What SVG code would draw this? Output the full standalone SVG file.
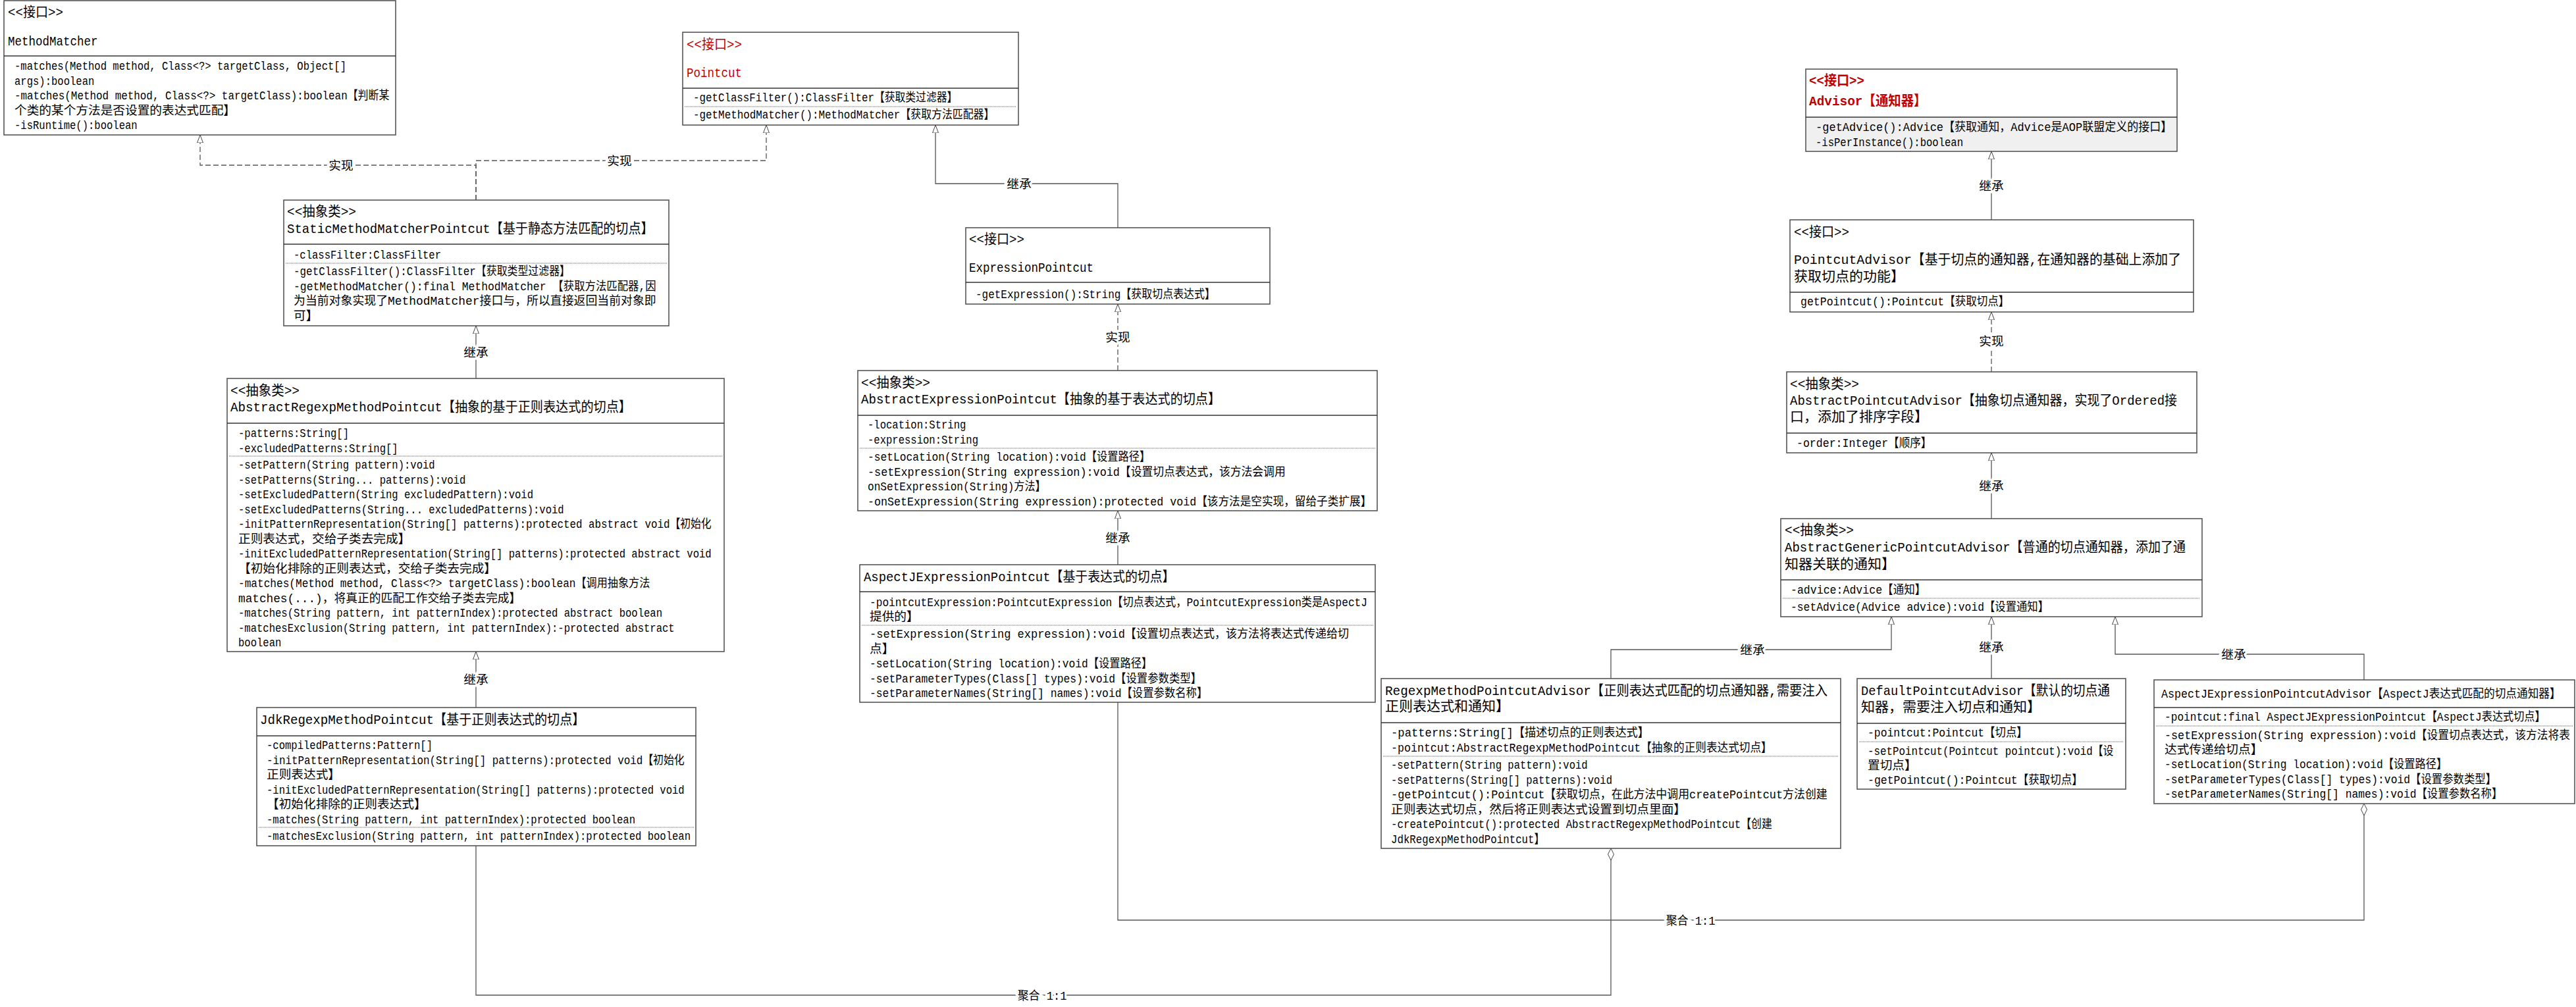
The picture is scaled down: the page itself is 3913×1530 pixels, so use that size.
<svg xmlns="http://www.w3.org/2000/svg" width="3913" height="1530" viewBox="0 0 3913 1530">
<style>
.box{fill:#fff;stroke:#555;stroke-width:1.6}
.dv{stroke:#333;stroke-width:1.3}
.dot{stroke:#555;stroke-width:1;stroke-dasharray:1 1}
text{font-family:"Liberation Mono","Noto Sans CJK SC",monospace;font-size:18.67px;fill:#000}
.h{font-size:21px}
.red{fill:#c00000}
.b{font-weight:bold}
.lbl{text-anchor:middle;stroke:#fff;stroke-width:7;paint-order:stroke}
.c{fill:none;stroke:#555;stroke-width:1.3}
.ds{stroke-dasharray:8 4}
.gen{marker-end:url(#tri)}
.agg{marker-end:url(#dia)}
</style>
<defs>
<marker id="tri" markerUnits="userSpaceOnUse" viewBox="0 0 12 10" markerWidth="12" markerHeight="10" refX="12" refY="5" orient="auto">
<path d="M0,0.5 L12,5 L0,9.5 Z" fill="#fff" stroke="#444" stroke-width="1"/>
</marker>
<marker id="dia" markerUnits="userSpaceOnUse" viewBox="0 0 18 10" markerWidth="18" markerHeight="10" refX="18" refY="5" orient="auto">
<path d="M0,5 L9,0.5 L18,5 L9,9.5 Z" fill="#fff" stroke="#444" stroke-width="1"/>
</marker>
</defs>
<rect width="3913" height="1530" fill="#fff"/>

<g id="connectors">
<path class="c ds gen" d="M723,304 V251 H304 V205"/>
<path class="c ds gen" d="M723,304 V244 H1164 V190"/>
<path class="c gen" d="M723,576 V495"/>
<path class="c gen" d="M723,1075 V990"/>
<path class="c gen" d="M1698,346 V279 H1421 V190"/>
<path class="c ds gen" d="M1698,563 V462"/>
<path class="c gen" d="M1698,858 V776"/>
<path class="c gen" d="M3025,334 V230"/>
<path class="c ds gen" d="M3025,565 V474"/>
<path class="c gen" d="M3025,788 V688"/>
<path class="c gen" d="M2447,1031 V987 H2873 V937"/>
<path class="c gen" d="M3025,1031 V937"/>
<path class="c gen" d="M3591,1033 V994 H3213 V937"/>
<path class="c agg" d="M723,1285 V1512 H2447 V1289"/>
<path class="c agg" d="M1698,1067 V1398 H3591 V1221"/>
<text class="lbl" x="518" y="257.5" textLength="37.3" lengthAdjust="spacingAndGlyphs">实现</text>
<text class="lbl" x="941" y="250.5" textLength="37.3" lengthAdjust="spacingAndGlyphs">实现</text>
<text class="lbl" x="723" y="541.5" textLength="37.3" lengthAdjust="spacingAndGlyphs">继承</text>
<text class="lbl" x="1548" y="285.5" textLength="37.3" lengthAdjust="spacingAndGlyphs">继承</text>
<text class="lbl" x="1698" y="518.5" textLength="37.3" lengthAdjust="spacingAndGlyphs">实现</text>
<text class="lbl" x="1698" y="823.5" textLength="37.3" lengthAdjust="spacingAndGlyphs">继承</text>
<text class="lbl" x="723" y="1038.5" textLength="37.3" lengthAdjust="spacingAndGlyphs">继承</text>
<text class="lbl" x="3025" y="288.5" textLength="37.3" lengthAdjust="spacingAndGlyphs">继承</text>
<text class="lbl" x="3025" y="524.5" textLength="37.3" lengthAdjust="spacingAndGlyphs">实现</text>
<text class="lbl" x="3025" y="744.5" textLength="37.3" lengthAdjust="spacingAndGlyphs">继承</text>
<text class="lbl" x="2662" y="993.5" textLength="37.3" lengthAdjust="spacingAndGlyphs">继承</text>
<text class="lbl" x="3025" y="989.5" textLength="37.3" lengthAdjust="spacingAndGlyphs">继承</text>
<text class="lbl" x="3393" y="1000.5" textLength="37.3" lengthAdjust="spacingAndGlyphs">继承</text>
<text class="lbl" x="1583" y="1518.5" textLength="74.7" lengthAdjust="spacingAndGlyphs">聚合 1:1</text>
<text class="lbl" x="2568" y="1404.5" textLength="74.7" lengthAdjust="spacingAndGlyphs">聚合 1:1</text>
</g>

<g id="MethodMatcher">
<rect class="box" x="6" y="1" width="595" height="204"/>
<line class="dv" x1="6" y1="85" x2="601" y2="85"/>
<text class="h" x="12" y="25" textLength="84" lengthAdjust="spacingAndGlyphs">&lt;&lt;接口&gt;&gt;</text>
<text class="h" x="12" y="69" textLength="136.5" lengthAdjust="spacingAndGlyphs">MethodMatcher</text>
<text x="22" y="106" textLength="504" lengthAdjust="spacingAndGlyphs">-matches(Method method, Class&lt;?&gt; targetClass, Object[]</text>
<text x="22" y="128.5" textLength="121.3" lengthAdjust="spacingAndGlyphs">args):boolean</text>
<text x="22" y="151" textLength="569.3" lengthAdjust="spacingAndGlyphs">-matches(Method method, Class&lt;?&gt; targetClass):boolean【判断某</text>
<text x="22" y="173.5" textLength="336" lengthAdjust="spacingAndGlyphs">个类的某个方法是否设置的表达式匹配】</text>
<text x="22" y="196" textLength="186.7" lengthAdjust="spacingAndGlyphs">-isRuntime():boolean</text>
</g>

<g id="Pointcut">
<rect class="box" x="1037" y="49" width="510" height="141"/>
<line class="dv" x1="1037" y1="134" x2="1547" y2="134"/>
<line class="dot" x1="1040" y1="162" x2="1544" y2="162"/>
<text class="h red" x="1043" y="74" textLength="84" lengthAdjust="spacingAndGlyphs">&lt;&lt;接口&gt;&gt;</text>
<text class="h red" x="1043" y="117" textLength="84" lengthAdjust="spacingAndGlyphs">Pointcut</text>
<text x="1053" y="154" textLength="401.3" lengthAdjust="spacingAndGlyphs">-getClassFilter():ClassFilter【获取类过滤器】</text>
<text x="1053" y="180" textLength="457.3" lengthAdjust="spacingAndGlyphs">-getMethodMatcher():MethodMatcher【获取方法匹配器】</text>
</g>

<g id="StaticMethodMatcherPointcut">
<rect class="box" x="431" y="304" width="585" height="191"/>
<line class="dv" x1="431" y1="371" x2="1016" y2="371"/>
<line class="dot" x1="434" y1="400" x2="1013" y2="400"/>
<text class="h" x="436" y="328" textLength="105" lengthAdjust="spacingAndGlyphs">&lt;&lt;抽象类&gt;&gt;</text>
<text class="h" x="436" y="354" textLength="556.5" lengthAdjust="spacingAndGlyphs">StaticMethodMatcherPointcut【基于静态方法匹配的切点】</text>
<text x="446" y="393" textLength="224" lengthAdjust="spacingAndGlyphs">-classFilter:ClassFilter</text>
<text x="446" y="418" textLength="420" lengthAdjust="spacingAndGlyphs">-getClassFilter():ClassFilter【获取类型过滤器】</text>
<text x="446" y="440.5" textLength="550.7" lengthAdjust="spacingAndGlyphs">-getMethodMatcher():final MethodMatcher 【获取方法匹配器,因</text>
<text x="446" y="463" textLength="550.7" lengthAdjust="spacingAndGlyphs">为当前对象实现了MethodMatcher接口与，所以直接返回当前对象即</text>
<text x="446" y="485.5" textLength="37.3" lengthAdjust="spacingAndGlyphs">可】</text>
</g>

<g id="AbstractRegexpMethodPointcut">
<rect class="box" x="345" y="575" width="755" height="415"/>
<line class="dv" x1="345" y1="643" x2="1100" y2="643"/>
<line class="dot" x1="348" y1="693" x2="1097" y2="693"/>
<text class="h" x="350" y="600" textLength="105" lengthAdjust="spacingAndGlyphs">&lt;&lt;抽象类&gt;&gt;</text>
<text class="h" x="350" y="625" textLength="609" lengthAdjust="spacingAndGlyphs">AbstractRegexpMethodPointcut【抽象的基于正则表达式的切点】</text>
<text x="362" y="664" textLength="168" lengthAdjust="spacingAndGlyphs">-patterns:String[]</text>
<text x="362" y="686.5" textLength="242.7" lengthAdjust="spacingAndGlyphs">-excludedPatterns:String[]</text>
<text x="362" y="712" textLength="298.7" lengthAdjust="spacingAndGlyphs">-setPattern(String pattern):void</text>
<text x="362" y="734.5" textLength="345.3" lengthAdjust="spacingAndGlyphs">-setPatterns(String... patterns):void</text>
<text x="362" y="757" textLength="448" lengthAdjust="spacingAndGlyphs">-setExcludedPattern(String excludedPattern):void</text>
<text x="362" y="779.5" textLength="494.7" lengthAdjust="spacingAndGlyphs">-setExcludedPatterns(String... excludedPatterns):void</text>
<text x="362" y="802" textLength="718.7" lengthAdjust="spacingAndGlyphs">-initPatternRepresentation(String[] patterns):protected abstract void【初始化</text>
<text x="362" y="824.5" textLength="261.3" lengthAdjust="spacingAndGlyphs">正则表达式，交给子类去完成】</text>
<text x="362" y="847" textLength="718.7" lengthAdjust="spacingAndGlyphs">-initExcludedPatternRepresentation(String[] patterns):protected abstract void</text>
<text x="362" y="869.5" textLength="392" lengthAdjust="spacingAndGlyphs">【初始化排除的正则表达式，交给子类去完成】</text>
<text x="362" y="892" textLength="625.3" lengthAdjust="spacingAndGlyphs">-matches(Method method, Class&lt;?&gt; targetClass):boolean【调用抽象方法</text>
<text x="362" y="914.5" textLength="429.3" lengthAdjust="spacingAndGlyphs">matches(...)，将真正的匹配工作交给子类去完成】</text>
<text x="362" y="937" textLength="644" lengthAdjust="spacingAndGlyphs">-matches(String pattern, int patternIndex):protected abstract boolean</text>
<text x="362" y="959.5" textLength="662.7" lengthAdjust="spacingAndGlyphs">-matchesExclusion(String pattern, int patternIndex):-protected abstract</text>
<text x="362" y="982" textLength="65.3" lengthAdjust="spacingAndGlyphs">boolean</text>
</g>

<g id="JdkRegexpMethodPointcut">
<rect class="box" x="390" y="1075" width="667" height="210"/>
<line class="dv" x1="390" y1="1118" x2="1057" y2="1118"/>
<line class="dot" x1="393" y1="1257" x2="1054" y2="1257"/>
<text class="h" x="395" y="1100" textLength="493.5" lengthAdjust="spacingAndGlyphs">JdkRegexpMethodPointcut【基于正则表达式的切点】</text>
<text x="405" y="1138" textLength="252" lengthAdjust="spacingAndGlyphs">-compiledPatterns:Pattern[]</text>
<text x="405" y="1160.5" textLength="634.7" lengthAdjust="spacingAndGlyphs">-initPatternRepresentation(String[] patterns):protected void【初始化</text>
<text x="405" y="1183" textLength="112" lengthAdjust="spacingAndGlyphs">正则表达式】</text>
<text x="405" y="1205.5" textLength="634.7" lengthAdjust="spacingAndGlyphs">-initExcludedPatternRepresentation(String[] patterns):protected void</text>
<text x="405" y="1228" textLength="242.7" lengthAdjust="spacingAndGlyphs">【初始化排除的正则表达式】</text>
<text x="405" y="1250.5" textLength="560" lengthAdjust="spacingAndGlyphs">-matches(String pattern, int patternIndex):protected boolean</text>
<text x="405" y="1276" textLength="644" lengthAdjust="spacingAndGlyphs">-matchesExclusion(String pattern, int patternIndex):protected boolean</text>
</g>

<g id="ExpressionPointcut">
<rect class="box" x="1467" y="346" width="462" height="116"/>
<line class="dv" x1="1467" y1="429" x2="1929" y2="429"/>
<text class="h" x="1472" y="370" textLength="84" lengthAdjust="spacingAndGlyphs">&lt;&lt;接口&gt;&gt;</text>
<text class="h" x="1472" y="413" textLength="189" lengthAdjust="spacingAndGlyphs">ExpressionPointcut</text>
<text x="1482" y="453" textLength="364" lengthAdjust="spacingAndGlyphs">-getExpression():String【获取切点表达式】</text>
</g>

<g id="AbstractExpressionPointcut">
<rect class="box" x="1303" y="563" width="789" height="213"/>
<line class="dv" x1="1303" y1="631" x2="2092" y2="631"/>
<line class="dot" x1="1306" y1="681" x2="2089" y2="681"/>
<text class="h" x="1308" y="588" textLength="105" lengthAdjust="spacingAndGlyphs">&lt;&lt;抽象类&gt;&gt;</text>
<text class="h" x="1308" y="613" textLength="546" lengthAdjust="spacingAndGlyphs">AbstractExpressionPointcut【抽象的基于表达式的切点】</text>
<text x="1318" y="651" textLength="149.3" lengthAdjust="spacingAndGlyphs">-location:String</text>
<text x="1318" y="674" textLength="168" lengthAdjust="spacingAndGlyphs">-expression:String</text>
<text x="1318" y="700" textLength="429.3" lengthAdjust="spacingAndGlyphs">-setLocation(String location):void【设置路径】</text>
<text x="1318" y="722.5" textLength="634.7" lengthAdjust="spacingAndGlyphs">-setExpression(String expression):void【设置切点表达式，该方法会调用</text>
<text x="1318" y="745" textLength="270.7" lengthAdjust="spacingAndGlyphs">onSetExpression(String)方法】</text>
<text x="1318" y="767.5" textLength="765.3" lengthAdjust="spacingAndGlyphs">-onSetExpression(String expression):protected void【该方法是空实现，留给子类扩展】</text>
</g>

<g id="AspectJExpressionPointcut">
<rect class="box" x="1306" y="858" width="783" height="209"/>
<line class="dv" x1="1306" y1="899" x2="2089" y2="899"/>
<line class="dot" x1="1309" y1="950" x2="2086" y2="950"/>
<text class="h" x="1312" y="883" textLength="472.5" lengthAdjust="spacingAndGlyphs">AspectJExpressionPointcut【基于表达式的切点】</text>
<text x="1321" y="921" textLength="756" lengthAdjust="spacingAndGlyphs">-pointcutExpression:PointcutExpression【切点表达式，PointcutExpression类是AspectJ</text>
<text x="1321" y="943" textLength="74.7" lengthAdjust="spacingAndGlyphs">提供的】</text>
<text x="1321" y="969" textLength="728" lengthAdjust="spacingAndGlyphs">-setExpression(String expression):void【设置切点表达式，该方法将表达式传递给切</text>
<text x="1321" y="991.5" textLength="37.3" lengthAdjust="spacingAndGlyphs">点】</text>
<text x="1321" y="1014" textLength="429.3" lengthAdjust="spacingAndGlyphs">-setLocation(String location):void【设置路径】</text>
<text x="1321" y="1036.5" textLength="504" lengthAdjust="spacingAndGlyphs">-setParameterTypes(Class[] types):void【设置参数类型】</text>
<text x="1321" y="1059" textLength="513.3" lengthAdjust="spacingAndGlyphs">-setParameterNames(String[] names):void【设置参数名称】</text>
</g>

<g id="Advisor">
<rect class="box" x="2743" y="105" width="564" height="125"/>
<rect x="2744" y="178" width="562" height="51" fill="#f0f0f0"/>
<line class="dv" x1="2743" y1="178" x2="3307" y2="178"/>
<text class="h red b" x="2748" y="129" textLength="84" lengthAdjust="spacingAndGlyphs">&lt;&lt;接口&gt;&gt;</text>
<text class="h red b" x="2748" y="160" textLength="178.5" lengthAdjust="spacingAndGlyphs">Advisor【通知器】</text>
<text x="2758" y="199" textLength="541.3" lengthAdjust="spacingAndGlyphs">-getAdvice():Advice【获取通知，Advice是AOP联盟定义的接口】</text>
<text x="2758" y="222" textLength="224" lengthAdjust="spacingAndGlyphs">-isPerInstance():boolean</text>
</g>

<g id="PointcutAdvisor">
<rect class="box" x="2719" y="334" width="613" height="140"/>
<line class="dv" x1="2719" y1="444" x2="3332" y2="444"/>
<text class="h" x="2725" y="359" textLength="84" lengthAdjust="spacingAndGlyphs">&lt;&lt;接口&gt;&gt;</text>
<text class="h" x="2725" y="401" textLength="588" lengthAdjust="spacingAndGlyphs">PointcutAdvisor【基于切点的通知器,在通知器的基础上添加了</text>
<text class="h" x="2725" y="427" textLength="168" lengthAdjust="spacingAndGlyphs">获取切点的功能】</text>
<text x="2735" y="464" textLength="317.3" lengthAdjust="spacingAndGlyphs">getPointcut():Pointcut【获取切点】</text>
</g>

<g id="AbstractPointcutAdvisor">
<rect class="box" x="2714" y="565" width="623" height="123"/>
<line class="dv" x1="2714" y1="658" x2="3337" y2="658"/>
<text class="h" x="2719" y="590" textLength="105" lengthAdjust="spacingAndGlyphs">&lt;&lt;抽象类&gt;&gt;</text>
<text class="h" x="2719" y="615" textLength="588" lengthAdjust="spacingAndGlyphs">AbstractPointcutAdvisor【抽象切点通知器，实现了Ordered接</text>
<text class="h" x="2719" y="640" textLength="210" lengthAdjust="spacingAndGlyphs">口，添加了排序字段】</text>
<text x="2729" y="679" textLength="205.3" lengthAdjust="spacingAndGlyphs">-order:Integer【顺序】</text>
</g>

<g id="AbstractGenericPointcutAdvisor">
<rect class="box" x="2705" y="788" width="640" height="149"/>
<line class="dv" x1="2705" y1="881" x2="3345" y2="881"/>
<line class="dot" x1="2708" y1="909" x2="3342" y2="909"/>
<text class="h" x="2711" y="812" textLength="105" lengthAdjust="spacingAndGlyphs">&lt;&lt;抽象类&gt;&gt;</text>
<text class="h" x="2711" y="838" textLength="609" lengthAdjust="spacingAndGlyphs">AbstractGenericPointcutAdvisor【普通的切点通知器，添加了通</text>
<text class="h" x="2711" y="864" textLength="168" lengthAdjust="spacingAndGlyphs">知器关联的通知】</text>
<text x="2720" y="902" textLength="205.3" lengthAdjust="spacingAndGlyphs">-advice:Advice【通知】</text>
<text x="2720" y="928" textLength="392" lengthAdjust="spacingAndGlyphs">-setAdvice(Advice advice):void【设置通知】</text>
</g>

<g id="RegexpMethodPointcutAdvisor">
<rect class="box" x="2098" y="1031" width="698" height="258"/>
<line class="dv" x1="2098" y1="1098" x2="2796" y2="1098"/>
<line class="dot" x1="2101" y1="1149" x2="2793" y2="1149"/>
<text class="h" x="2104" y="1056" textLength="672" lengthAdjust="spacingAndGlyphs">RegexpMethodPointcutAdvisor【正则表达式匹配的切点通知器,需要注入</text>
<text class="h" x="2104" y="1080" textLength="189" lengthAdjust="spacingAndGlyphs">正则表达式和通知】</text>
<text x="2113" y="1119" textLength="392" lengthAdjust="spacingAndGlyphs">-patterns:String[]【描述切点的正则表达式】</text>
<text x="2113" y="1141.5" textLength="578.7" lengthAdjust="spacingAndGlyphs">-pointcut:AbstractRegexpMethodPointcut【抽象的正则表达式切点】</text>
<text x="2113" y="1168" textLength="298.7" lengthAdjust="spacingAndGlyphs">-setPattern(String pattern):void</text>
<text x="2113" y="1190.5" textLength="336" lengthAdjust="spacingAndGlyphs">-setPatterns(String[] patterns):void</text>
<text x="2113" y="1213" textLength="662.7" lengthAdjust="spacingAndGlyphs">-getPointcut():Pointcut【获取切点，在此方法中调用createPointcut方法创建</text>
<text x="2113" y="1235.5" textLength="448" lengthAdjust="spacingAndGlyphs">正则表达式切点，然后将正则表达式设置到切点里面】</text>
<text x="2113" y="1258" textLength="578.7" lengthAdjust="spacingAndGlyphs">-createPointcut():protected AbstractRegexpMethodPointcut【创建</text>
<text x="2113" y="1280.5" textLength="233.3" lengthAdjust="spacingAndGlyphs">JdkRegexpMethodPointcut】</text>
</g>

<g id="DefaultPointcutAdvisor">
<rect class="box" x="2821" y="1031" width="408" height="168"/>
<line class="dv" x1="2821" y1="1099" x2="3229" y2="1099"/>
<line class="dot" x1="2824" y1="1127" x2="3226" y2="1127"/>
<text class="h" x="2827" y="1056" textLength="378" lengthAdjust="spacingAndGlyphs">DefaultPointcutAdvisor【默认的切点通</text>
<text class="h" x="2827" y="1081" textLength="273" lengthAdjust="spacingAndGlyphs">知器，需要注入切点和通知】</text>
<text x="2837" y="1119" textLength="242.7" lengthAdjust="spacingAndGlyphs">-pointcut:Pointcut【切点】</text>
<text x="2837" y="1146.5" textLength="373.3" lengthAdjust="spacingAndGlyphs">-setPointcut(Pointcut pointcut):void【设</text>
<text x="2837" y="1168.5" textLength="74.7" lengthAdjust="spacingAndGlyphs">置切点】</text>
<text x="2837" y="1190.5" textLength="326.7" lengthAdjust="spacingAndGlyphs">-getPointcut():Pointcut【获取切点】</text>
</g>

<g id="AspectJExpressionPointcutAdvisor">
<rect class="box" x="3272" y="1033" width="639" height="188"/>
<line class="dv" x1="3272" y1="1075" x2="3911" y2="1075"/>
<line class="dot" x1="3275" y1="1103" x2="3908" y2="1103"/>
<text x="3283" y="1060" textLength="606.7" lengthAdjust="spacingAndGlyphs">AspectJExpressionPointcutAdvisor【AspectJ表达式匹配的切点通知器】</text>
<text x="3288" y="1095" textLength="578.7" lengthAdjust="spacingAndGlyphs">-pointcut:final AspectJExpressionPointcut【AspectJ表达式切点】</text>
<text x="3288" y="1123" textLength="616" lengthAdjust="spacingAndGlyphs">-setExpression(String expression):void【设置切点表达式，该方法将表</text>
<text x="3288" y="1145" textLength="149.3" lengthAdjust="spacingAndGlyphs">达式传递给切点】</text>
<text x="3288" y="1167" textLength="429.3" lengthAdjust="spacingAndGlyphs">-setLocation(String location):void【设置路径】</text>
<text x="3288" y="1189.5" textLength="504" lengthAdjust="spacingAndGlyphs">-setParameterTypes(Class[] types):void【设置参数类型】</text>
<text x="3288" y="1212" textLength="513.3" lengthAdjust="spacingAndGlyphs">-setParameterNames(String[] names):void【设置参数名称】</text>
</g>
</svg>
